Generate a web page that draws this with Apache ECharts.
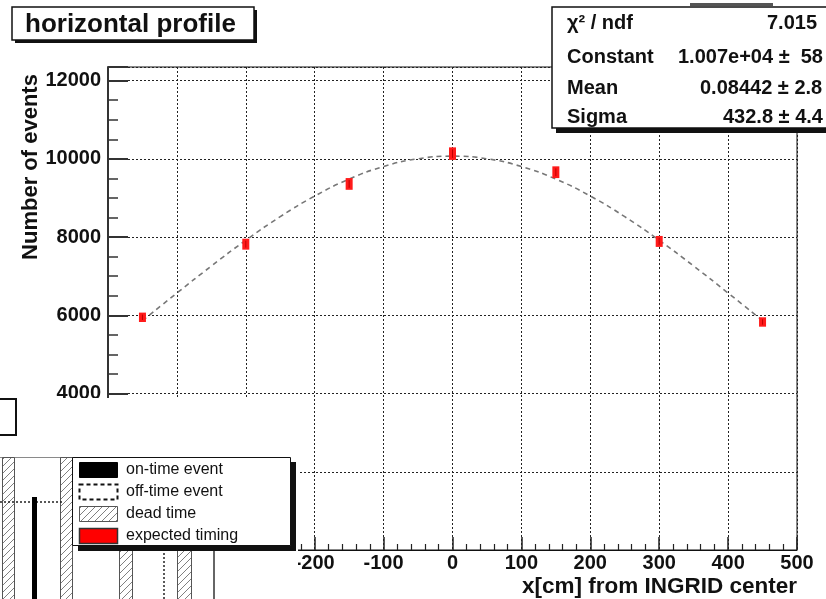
<!DOCTYPE html>
<html>
<head>
<meta charset="utf-8">
<script src="https://cdn.jsdelivr.net/npm/echarts@6/dist/echarts.min.js"></script>
<style>
  html, body { margin: 0; padding: 0; background: #fff; }
  #chart { width: 826px; height: 599px; }
</style>
</head>
<body>
<div id="chart"></div>
<script>
// ---- horizontal beam profile: events per module position ----
const positions   = [-450, -300, -150, 0, 150, 300, 450];
const counts      = [5950, 7820, 9360, 10135, 9660, 7890, 5830];
const countErrors = [120, 140, 150, 160, 150, 140, 120];

// Gaussian fit curve, sampled every 50 cm over the fit range
const fitX = [-450, -400, -350, -300, -250, -200, -150, -100, -50, 0, 50, 100, 150, 200, 250, 300, 350, 400, 450];
const fitY = [5865, 6570, 7261, 7919, 8523, 9050, 9483, 9805, 10003, 10070, 10003, 9805, 9483, 9050, 8523, 7919, 7261, 6570, 5865];

// fit statistics box
const statNames  = ['\u03c7\u00b2 / ndf', 'Constant', 'Mean', 'Sigma'];
const statValues = ['7.015', '1.007e+04 \u00b1  58', '0.08442 \u00b1 2.8', '432.8 \u00b1 4.4'];

// ---- timing panel (lower left) ----
const deadTimeWindows = [[2, 14], [60, 72], [119, 132], [177, 191]];
const onTimeEvents    = [[32, 37, 102]];               // [start, end, height]
const offTimeEdges    = [[[0, 97], [62, 97]], [[164, 0], [164, 142]]];
const windowEdges     = [[[214, 0], [214, 142]]];
const legendLabels    = ['on-time event', 'off-time event', 'dead time', 'expected timing'];

const FONT = "'Liberation Sans', Arial, Helvetica, sans-serif";

function hatchCanvas() {
  const c = document.createElement('canvas');
  c.width = 7; c.height = 7;
  const g = c.getContext('2d');
  g.fillStyle = '#fff';
  g.fillRect(0, 0, 7, 7);
  g.strokeStyle = '#808080';
  g.lineWidth = 1;
  g.beginPath();
  g.moveTo(-1, 8); g.lineTo(8, -1);
  g.moveTo(-4, 4); g.lineTo(4, -4);
  g.moveTo(3, 11); g.lineTo(11, 3);
  g.stroke();
  return c;
}
const hatch = { image: hatchCanvas(), repeat: 'repeat' };

const chart = echarts.init(document.getElementById('chart'), null, { renderer: 'canvas' });

// graphic decorations: title box, stats box, axis titles, overlapping timing panel
const graphics = [];

// title box
graphics.push(
  { type: 'rect', shape: { x: 15, y: 10, width: 242, height: 33 }, style: { fill: '#111' }, z: 50 },
  { type: 'rect', shape: { x: 12, y: 7, width: 242, height: 33 }, style: { fill: '#fff', stroke: '#111', lineWidth: 1.5 }, z: 51 },
  { type: 'text', x: 25, y: 25, style: { text: 'horizontal profile', font: 'bold 26px ' + FONT, fill: '#111', textVerticalAlign: 'middle' }, z: 52 }
);

// stats box
graphics.push(
  { type: 'rect', shape: { x: 690, y: 3, width: 83, height: 3 }, style: { fill: '#555' }, z: 49 },
  { type: 'rect', shape: { x: 556, y: 11, width: 300, height: 122 }, style: { fill: '#111' }, z: 50 },
  { type: 'rect', shape: { x: 552, y: 7, width: 300, height: 121 }, style: { fill: '#fff', stroke: '#111', lineWidth: 1.5 }, z: 51 }
);
const statRowsY = [23, 57, 88, 117];
const statValueX = [767, 678, 700, 723];
statNames.forEach((n, i) => {
  graphics.push({ type: 'text', x: 567, y: statRowsY[i], style: { text: n, font: 'bold 20px ' + FONT, fill: '#111', textVerticalAlign: 'middle' }, z: 52 });
  graphics.push({ type: 'text', x: statValueX[i], y: statRowsY[i], style: { text: statValues[i], font: 'bold 20px ' + FONT, fill: '#111', textVerticalAlign: 'middle' }, z: 52 });
});

// axis titles
graphics.push(
  { type: 'text', x: 31, y: 167, rotation: Math.PI / 2, style: { text: 'Number of events', font: 'bold 22px ' + FONT, fill: '#111', textAlign: 'center', textVerticalAlign: 'middle' }, z: 20 },
  { type: 'text', x: 797, y: 587, style: { text: 'x[cm] from INGRID center', font: 'bold 22.5px ' + FONT, fill: '#111', textAlign: 'right', textVerticalAlign: 'middle' }, z: 20 }
);

// overlapping timing panel background
graphics.push(
  { type: 'rect', shape: { x: 0, y: 398, width: 298, height: 201 }, style: { fill: '#fff' }, z: 100 },
  { type: 'rect', shape: { x: -10, y: 399, width: 26, height: 36 }, style: { fill: '#fff', stroke: '#111', lineWidth: 2 }, z: 101 },
  { type: 'line', shape: { x1: 0, y1: 457.5, x2: 73, y2: 457.5 }, style: { stroke: '#8a8a8a', lineWidth: 1 }, z: 101 }
);

// timing panel legend
const legendZ = 200;
graphics.push(
  { type: 'rect', shape: { x: 78, y: 462, width: 218, height: 89 }, style: { fill: '#111' }, z: legendZ },
  { type: 'rect', shape: { x: 72.5, y: 457.5, width: 218, height: 88 }, style: { fill: '#fff', stroke: '#111', lineWidth: 1 }, z: legendZ + 1 }
);
const swatchTops = [462, 484, 506, 528];
const swatchStyles = [
  { fill: '#000', stroke: '#000', lineWidth: 1 },
  { fill: '#fff', stroke: '#111', lineWidth: 2, lineDash: [4, 3] },
  { fill: hatch, stroke: '#555', lineWidth: 1 },
  { fill: '#ff0000', stroke: '#333', lineWidth: 1.5 }
];
legendLabels.forEach((t, i) => {
  graphics.push({ type: 'rect', shape: { x: 79.5, y: swatchTops[i] + 0.5, width: 38, height: 15 }, style: swatchStyles[i], z: legendZ + 2 });
  graphics.push({ type: 'text', x: 126, y: swatchTops[i] + 8, style: { text: t, font: '16px ' + FONT, fill: '#111', textVerticalAlign: 'middle' }, z: legendZ + 2 });
});

const option = {
  animation: false,
  backgroundColor: '#fff',
  grid: [
    { left: 108, right: 29, top: 67, bottom: 49, show: true, borderColor: '#111', borderWidth: 1, backgroundColor: 'transparent', containLabel: false, outerBoundsMode: 'none' },
    { left: 0, top: 457, width: 298, height: 142, show: false, containLabel: false, outerBoundsMode: 'none' }
  ],
  xAxis: [
    {
      type: 'value', gridIndex: 0, min: -500, max: 500, interval: 100,
      axisLine: { show: true, onZero: false, lineStyle: { color: '#111', width: 1 } },
      axisTick: { show: true, inside: true, length: 13, lineStyle: { color: '#222', width: 1.5 } },
      minorTick: { show: true, splitNumber: 5, length: 6, lineStyle: { color: '#222', width: 1.2 } },
      axisLabel: { show: true, margin: 3, color: '#111', fontSize: 20, fontWeight: 'bold', fontFamily: FONT, formatter: (v) => String(v) },
      splitLine: { show: true, lineStyle: { color: '#222', width: 1, type: [2, 2] } },
      minorSplitLine: { show: false }
    },
    { type: 'value', gridIndex: 1, min: 0, max: 298, show: false }
  ],
  yAxis: [
    {
      type: 'value', gridIndex: 0, min: 0, max: 12350, interval: 2000,
      axisLine: { show: true, onZero: false, lineStyle: { color: '#333', width: 2 } },
      axisTick: { show: true, inside: true, length: 20, lineStyle: { color: '#333', width: 2 } },
      minorTick: { show: true, splitNumber: 4, length: 10, lineStyle: { color: '#333', width: 1.5 } },
      axisLabel: { show: true, margin: 7, color: '#111', fontSize: 20, fontWeight: 'bold', fontFamily: FONT, showMaxLabel: false, formatter: (v) => String(v) },
      splitLine: { show: true, lineStyle: { color: '#222', width: 1, type: [2, 2] } },
      minorSplitLine: { show: false }
    },
    { type: 'value', gridIndex: 1, min: 0, max: 142, show: false }
  ],
  graphic: { elements: graphics },
  series: [
    {
      name: 'fit', type: 'line', xAxisIndex: 0, yAxisIndex: 0,
      data: fitX.map((x, i) => [x, fitY[i]]),
      smooth: true, showSymbol: false, symbol: 'none',
      lineStyle: { color: '#777', width: 1.6, type: [5, 4] },
      z: 3, silent: true
    },
    {
      name: 'events', type: 'custom', xAxisIndex: 0, yAxisIndex: 0,
      data: positions.map((x, i) => [x, counts[i], countErrors[i]]),
      renderItem: (params, api) => {
        const x = api.value(0), y = api.value(1), e = api.value(2);
        const top = api.coord([x, y + e]);
        const bot = api.coord([x, y - e]);
        const w = 7;
        return {
          type: 'group',
          children: [
            { type: 'rect', shape: { x: top[0] - w / 2, y: top[1], width: w, height: bot[1] - top[1] }, style: { fill: '#ff1a1a' } },
            { type: 'line', shape: { x1: top[0], y1: top[1] + 2, x2: top[0], y2: bot[1] - 2 }, style: { stroke: '#c00000', lineWidth: 1 } }
          ]
        };
      },
      z: 5
    },
    {
      name: 'dead time', type: 'custom', xAxisIndex: 1, yAxisIndex: 1,
      data: deadTimeWindows,
      renderItem: (params, api) => {
        const p0 = api.coord([api.value(0), 142]);
        const p1 = api.coord([api.value(1), 0]);
        return { type: 'rect', shape: { x: p0[0] + 0.5, y: p0[1] + 0.5, width: p1[0] - p0[0], height: p1[1] - p0[1] + 5 }, style: { fill: hatch, stroke: '#555', lineWidth: 1 } };
      },
      z: 110
    },
    {
      name: 'on-time event', type: 'custom', xAxisIndex: 1, yAxisIndex: 1,
      data: onTimeEvents,
      renderItem: (params, api) => {
        const p0 = api.coord([api.value(0), api.value(2)]);
        const p1 = api.coord([api.value(1), 0]);
        return { type: 'rect', shape: { x: p0[0], y: p0[1], width: p1[0] - p0[0], height: p1[1] - p0[1] + 5 }, style: { fill: '#000' } };
      },
      z: 112
    },
    ...offTimeEdges.map((seg) => ({
      name: 'off-time event', type: 'line', xAxisIndex: 1, yAxisIndex: 1,
      data: seg, showSymbol: false, symbol: 'none',
      lineStyle: { color: '#222', width: 1.5, type: [2, 2] }, z: 111, silent: true
    })),
    ...windowEdges.map((seg) => ({
      name: 'window', type: 'line', xAxisIndex: 1, yAxisIndex: 1,
      data: seg, showSymbol: false, symbol: 'none',
      lineStyle: { color: '#333', width: 1.5 }, z: 111, silent: true
    }))
  ]
};

chart.setOption(option);
</script>
</body>
</html>
